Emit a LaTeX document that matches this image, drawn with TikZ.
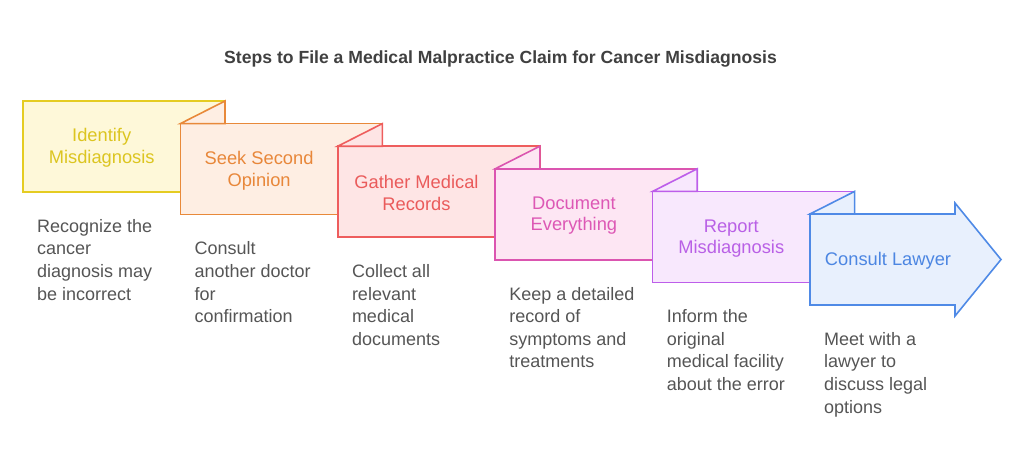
\documentclass[tikz,border=0pt]{standalone}
\usepackage{fontspec}
\setmainfont{Liberation Sans}
\definecolor{yS}{HTML}{E5CC22}\definecolor{yF}{HTML}{FEF8D9}\definecolor{yT}{HTML}{DCC520}
\definecolor{oS}{HTML}{E8893A}\definecolor{oF}{HTML}{FEEEE3}\definecolor{oT}{HTML}{E8873A}
\definecolor{rS}{HTML}{EE5D5D}\definecolor{rF}{HTML}{FEE5E5}\definecolor{rT}{HTML}{EA5B5B}
\definecolor{pS}{HTML}{DB55B0}\definecolor{pF}{HTML}{FDE6F3}\definecolor{pT}{HTML}{DD58B5}
\definecolor{vS}{HTML}{BD5EEA}\definecolor{vF}{HTML}{F8E8FD}\definecolor{vT}{HTML}{B960E6}
\definecolor{bS}{HTML}{4F8AE6}\definecolor{bF}{HTML}{E8F0FD}\definecolor{bT}{HTML}{4C86E2}
\definecolor{descgray}{HTML}{555555}
\definecolor{titlegray}{HTML}{404040}
\begin{document}
\begin{tikzpicture}[x=1pt,y=-1pt]
\useasboundingbox (0,0) rectangle (1024,463);
\tikzset{
 stepshape/.style={line width=1.6pt, line join=miter},
 lbl/.style={font=\fontsize{18.3}{21.5}\selectfont, align=center, inner sep=0},
 desc/.style={font=\fontsize{18}{22.6}\selectfont, align=left, anchor=north west, inner sep=0, text=descgray},
}
\node[font=\bfseries\fontsize{17.6}{20}\selectfont, text=titlegray, anchor=base] (title) at (500.5,63.5) {Steps to File a Medical Malpractice Claim for Cancer Misdiagnosis};

% shapes
\draw[stepshape, draw=yS, fill=yF] (23,101) rectangle (225,192);
\draw[stepshape, draw=oS, fill=oF] (180.4,123.6) rectangle (382.4,214.6);
\draw[stepshape, draw=oS, fill=oF] (180.4,123.6) -- (225,101) -- (225,123.6) -- cycle;
\draw[stepshape, draw=rS, fill=rF] (337.8,146.2) rectangle (539.8,237.2);
\draw[stepshape, draw=rS, fill=rF] (337.8,146.2) -- (382.4,123.6) -- (382.4,146.2) -- cycle;
\draw[stepshape, draw=pS, fill=pF] (495.2,168.8) rectangle (697.2,259.8);
\draw[stepshape, draw=pS, fill=pF] (495.2,168.8) -- (539.8,146.2) -- (539.8,168.8) -- cycle;
\draw[stepshape, draw=vS, fill=vF] (652.6,191.4) rectangle (854.6,282.4);
\draw[stepshape, draw=vS, fill=vF] (652.6,191.4) -- (697.2,168.8) -- (697.2,191.4) -- cycle;
\draw[stepshape, draw=bS, fill=bF] (810,214) -- (955,214) -- (955,203) -- (1001,259.5) -- (955,316) -- (955,305) -- (810,305) -- cycle;
\draw[stepshape, draw=bS, fill=bF] (810,214) -- (854.6,191.4) -- (854.6,214) -- cycle;

% labels
\node[lbl, text=yT] (l1) at (101.7,148) {Identify\\Misdiagnosis};
\node[lbl, text=oT] (l2) at (259.1,170.6) {Seek Second\\Opinion};
\node[lbl, text=rT] (l3) at (416.5,193.2) {Gather Medical\\Records};
\node[lbl, text=pT] (l4) at (573.9,215.8) {Document\\Everything};
\node[lbl, text=vT] (l5) at (731.3,238.4) {Report\\Misdiagnosis};
\node[lbl, text=bT] (l6) at (888,260.5) {Consult Lawyer};

% descriptions
\node[desc] (d1) at (37,219) {Recognize the\\cancer\\diagnosis may\\be incorrect};
\node[desc] (d2) at (194.4,241.6) {Consult\\another doctor\\for\\confirmation};
\node[desc] (d3) at (351.8,264.2) {Collect all\\relevant\\medical\\documents};
\node[desc] (d4) at (509.2,286.8) {Keep a detailed\\record of\\symptoms and\\treatments};
\node[desc] (d5) at (666.6,309.4) {Inform the\\original\\medical facility\\about the error};
\node[desc] (d6) at (824,332) {Meet with a\\lawyer to\\discuss legal\\options};
\end{tikzpicture}
\end{document}
